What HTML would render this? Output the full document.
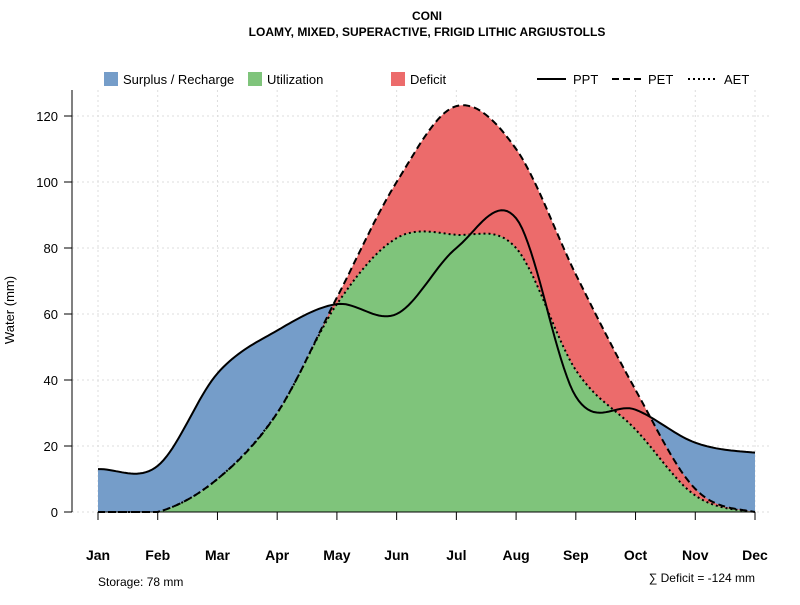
<!DOCTYPE html>
<html><head><meta charset="utf-8"><style>
body{margin:0;background:#fff;font-family:"Liberation Sans",sans-serif}
</style></head><body>
<svg id="chart" width="800" height="600" xmlns="http://www.w3.org/2000/svg" font-family="Liberation Sans, sans-serif">
<text x="427" y="20" text-anchor="middle" font-size="12" font-weight="bold">CONI</text>
<text x="427" y="36" text-anchor="middle" font-size="12" font-weight="bold">LOAMY, MIXED, SUPERACTIVE, FRIGID LITHIC ARGIUSTOLLS</text>
<g id="grid"></g>
<g id="areas"></g>
<g id="lines"></g>
<g id="axes"></g>
<g font-size="13">
<rect x="104" y="72" width="14" height="14" fill="#759dc9"/>
<text x="123" y="84">Surplus / Recharge</text>
<rect x="248" y="72" width="14" height="14" fill="#7fc47b"/>
<text x="267" y="84">Utilization</text>
<rect x="391" y="72" width="14" height="14" fill="#ec6b6b"/>
<text x="410" y="84">Deficit</text>
<line x1="537" y1="79" x2="566" y2="79" stroke="#000" stroke-width="2"/>
<text x="573" y="84">PPT</text>
<line x1="612" y1="79" x2="641" y2="79" stroke="#000" stroke-width="2" stroke-dasharray="7,4"/>
<text x="648" y="84">PET</text>
<line x1="688" y1="79" x2="717" y2="79" stroke="#000" stroke-width="2" stroke-dasharray="2,3"/>
<text x="724" y="84">AET</text>
</g>
<text transform="translate(14,310) rotate(-90)" text-anchor="middle" font-size="13">Water (mm)</text>
<text x="98" y="586" font-size="12">Storage: 78 mm</text>
<text x="755" y="582" text-anchor="end" font-size="12">∑ Deficit = -124 mm</text>
</svg>
<script>
const months=["Jan","Feb","Mar","Apr","May","Jun","Jul","Aug","Sep","Oct","Nov","Dec"];
const ppt=[13,14,42,55,63,60,80,89,35,31,21,18];
const pet=[0,0,10,30,65,100,123,110,72,37,7,0];
const aet=[0,0,10,30,63,83,84,80,43,25,5,0];
const yTicks=[0,20,40,60,80,100,120];
const NS="http://www.w3.org/2000/svg";
const x0=98,x1=755,y0=512,yPer=3.3;
const X=i=>x0+i*(x1-x0)/(months.length-1);
const Y=v=>y0-v*yPer;
function mk(tag,attrs,parent){const e=document.createElementNS(NS,tag);for(const k in attrs)e.setAttribute(k,attrs[k]);parent.appendChild(e);return e;}
function sample(vals){ // Catmull-Rom
  const pts=[];const n=vals.length;
  for(let i=0;i<n-1;i++){
    const p0=vals[Math.max(i-1,0)],p1=vals[i],p2=vals[i+1],p3=vals[Math.min(i+2,n-1)];
    for(let s=0;s<20;s++){const t=s/20;
      const v=0.5*((2*p1)+(-p0+p2)*t+(2*p0-5*p1+4*p2-p3)*t*t+(-p0+3*p1-3*p2+p3)*t*t*t);
      pts.push([X(i+t),Y(Math.max(v,0))]);}
  }
  pts.push([X(n-1),Y(vals[n-1])]);return pts;
}
const grid=document.getElementById('grid'),areas=document.getElementById('areas'),lines=document.getElementById('lines'),axes=document.getElementById('axes');
months.forEach((m,i)=>{const g=mk('line',{x1:X(i),x2:X(i),y1:90,y2:512,stroke:'#ddd','stroke-dasharray':'2,3'},grid);});
yTicks.forEach(v=>{const g=mk('line',{x1:72,x2:770,y1:Y(v),y2:Y(v),stroke:'#ddd','stroke-dasharray':'2,3'},grid);});
function area(vals,fill,name){const p=sample(vals);const d='M'+X(0)+','+y0+' '+p.map(q=>'L'+q[0].toFixed(1)+','+q[1].toFixed(1)).join(' ')+' L'+X(months.length-1)+','+y0+'Z';
  const e=mk('path',{d:d,fill:fill},areas);}
area(ppt,'#759dc9','surplus-area');area(pet,'#ec6b6b','deficit-area');area(aet,'#7fc47b','utilization-area');
function line(vals,dash,name){const p=sample(vals);const d='M'+p.map(q=>q[0].toFixed(1)+','+q[1].toFixed(1)).join(' L');
  const e=mk('path',{d:d,fill:'none',stroke:'#000','stroke-width':2,'stroke-dasharray':dash},lines);}
line(ppt,'none','ppt-line');line(pet,'7,4','pet-line');line(aet,'2,3','aet-line');
let e=mk('line',{x1:72,x2:72,y1:90,y2:512,stroke:'#000'},axes);
yTicks.forEach(v=>{let t=mk('line',{x1:64,x2:72,y1:Y(v),y2:Y(v),stroke:'#000'},axes);
 let l=mk('text',{x:58,y:Y(v)+5,'text-anchor':'end','font-size':13},axes);l.textContent=v;});
e=mk('line',{x1:X(0),x2:X(11),y1:512,y2:512,stroke:'#000'},axes);
months.forEach((m,i)=>{let t=mk('line',{x1:X(i),x2:X(i),y1:512,y2:520,stroke:'#000'},axes);
 let l=mk('text',{x:X(i),y:560,'text-anchor':'middle','font-size':14,'font-weight':'bold'},axes);l.textContent=m;});
</script>
</body></html>
